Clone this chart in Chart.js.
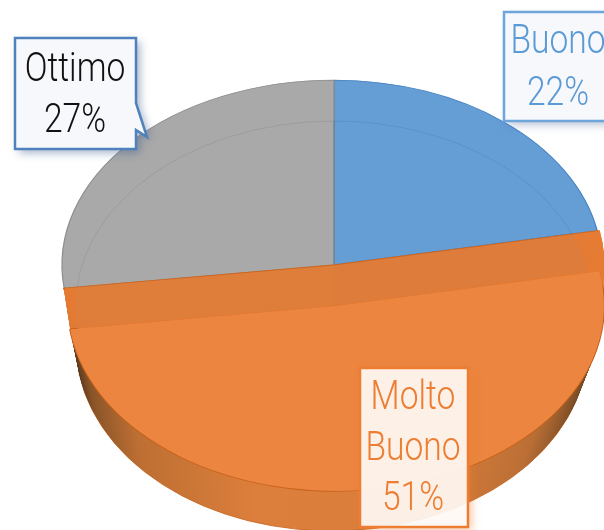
<!DOCTYPE html>
<html>
<head>
<meta charset="utf-8">
<style>
  html, body { margin: 0; padding: 0; background: #fff; overflow: hidden; }
  canvas { display: block; }
</style>
<script src="https://cdn.jsdelivr.net/npm/chart.js@4"></script>
</head>
<body>
<canvas id="pieChart" width="604" height="530"></canvas>
<script>
// Chart data
const categories = ["Buono", "Molto Buono", "Ottimo"];
const shares = [22, 51, 27];
const sliceColors = ["#659dd5", "#eb853f", "#a9a9a9"];
const sliceBorders = ["#3f7fc0", "#d0651a", "#8c8c8c"];
const labelColors = ["#5b9bd5", "#ed7d31", "#111111"];

const TILT = 0.68; // squash of the pie disc
const DEPTH = 40;
const EXPLODE_Y = 41;
const LABEL_FONT = '300 40px "Roboto", sans-serif';
const LABEL_NARROW = 0.84; // no condensed face installed, so narrow it by hand

function paintArc(ctx, arc, fill, stroke, width) {
  const saved = arc.options;
  arc.options = Object.assign({}, saved, {
    backgroundColor: fill,
    borderColor: stroke,
    borderWidth: width,
  });
  arc.draw(ctx);
  arc.options = saved;
}

function withPose(ctx, arc, dx, dy, sx, fn) {
  ctx.save();
  ctx.translate(arc.x + dx, arc.y + dy);
  ctx.scale(sx, TILT);
  ctx.translate(-arc.x, -arc.y);
  fn();
  ctx.restore();
}

const NONE = "rgba(0,0,0,0)";

// 3D look: every layer is the library's own arc element, repainted under a tilt
const tiltedPie = {
  id: "tiltedPie",
  beforeDatasetsDraw(chart) {
    const ctx = chart.ctx;
    const [blue, orange, grey] = chart.getDatasetMeta(0).data;

    // Outer wall of the exploded slice, tapering a little towards the bottom
    const wall = ctx.createLinearGradient(66, 0, 606, 0);
    wall.addColorStop(0, "#5a3a20");
    wall.addColorStop(0.03, "#8a5428");
    wall.addColorStop(0.12, "#bd6f33");
    wall.addColorStop(0.35, "#dd7f3c");
    wall.addColorStop(0.65, "#dc7e3b");
    wall.addColorStop(0.87, "#bb6f35");
    wall.addColorStop(0.97, "#7a4c26");
    wall.addColorStop(1, "#4f3219");
    for (let i = DEPTH; i >= 1; i--) {
      const t = i / DEPTH;
      withPose(ctx, orange, 2 - 4 * t, EXPLODE_Y + i, 0.985 - 0.045 * t, () => {
        paintArc(ctx, orange, wall, i === DEPTH ? "#c8651f" : NONE, i === DEPTH ? 1 : 0);
      });
    }

    // Fill the gap between the raised and the exploded position of the slice
    const gap = ctx.createLinearGradient(60, 0, 606, 0);
    gap.addColorStop(0, "#e07b35");
    gap.addColorStop(0.5, "#e07b35");
    gap.addColorStop(0.5, "#eb853f");
    gap.addColorStop(1, "#eb853f");
    for (let i = EXPLODE_Y; i >= 0; i--) {
      const t = i / EXPLODE_Y;
      withPose(ctx, orange, -1 + 3 * t, i, 0.998 - 0.013 * t, () => {
        paintArc(ctx, orange, gap, NONE, 0);
      });
    }

    // Cut walls showing through the band, then the back slices
    [blue, grey].forEach((arc) => {
      const color = arc === blue ? "#7f8f9f" : "#9a9a9a";
      withPose(ctx, arc, 0, EXPLODE_Y, 0.95, () => paintArc(ctx, arc, color, NONE, 0));
    });
    withPose(ctx, blue, 0, 0, 0.985, () => paintArc(ctx, blue, blue.options.backgroundColor, blue.options.borderColor, 1.2));
    withPose(ctx, grey, 0, 0, 1, () => paintArc(ctx, grey, grey.options.backgroundColor, grey.options.borderColor, 1.2));
    withPose(ctx, blue, 0, EXPLODE_Y, 0.95, () => paintArc(ctx, blue, NONE, "rgba(60,120,180,0.35)", 1));
    withPose(ctx, grey, 0, EXPLODE_Y, 0.95, () => paintArc(ctx, grey, NONE, "rgba(120,120,120,0.3)", 1));

    // Exploded slice: dark rim, translucent band, flat face
    withPose(ctx, orange, 2, EXPLODE_Y, 0.985, () => paintArc(ctx, orange, NONE, "#c45f18", 2));
    withPose(ctx, orange, -1, 0, 0.998, () => paintArc(ctx, orange, "rgba(229,123,50,0.92)", NONE, 0));
    // only the upper edge of the band gets a line
    ctx.save();
    ctx.beginPath();
    ctx.rect(60, 0, 538, 290);
    ctx.clip();
    withPose(ctx, orange, -1, 0, 0.998, () => paintArc(ctx, orange, NONE, orange.options.borderColor, 1.2));
    ctx.restore();
    withPose(ctx, orange, 2, EXPLODE_Y, 0.985, () => paintArc(ctx, orange, orange.options.backgroundColor, NONE, 0));

    return false;
  },
  afterDraw(chart) {
    const ctx = chart.ctx;
    drawLabel(ctx, 2, { x: 15, y: 38, w: 121, h: 111, cx: 75, lines: [71, 122], fill: "#f7f8fb", line: "#4f81bd", shadow: "rgba(60,90,140,0.45)", tail: true });
    drawLabel(ctx, 0, { x: 504, y: 12, w: 112, h: 109, cx: 558, lines: [43, 95], fill: "#f7f8fc", line: "#6ea5da", shadow: "rgba(60,90,140,0.35)" });
    drawLabel(ctx, 1, { x: 360, y: 368, w: 108, h: 159, cx: 413, lines: [399, 450, 500], fill: "rgba(255,255,255,0.88)", line: "#ed7d31", shadow: "rgba(237,125,49,0.45)" });
  },
};

function drawLabel(ctx, index, box) {
  ctx.save();
  ctx.beginPath();
  ctx.moveTo(box.x, box.y);
  ctx.lineTo(box.x + box.w, box.y);
  if (box.tail) {
    // callout pointer towards the grey slice
    ctx.lineTo(box.x + box.w, 103);
    ctx.lineTo(147, 137);
    ctx.lineTo(box.x + box.w, 130);
  }
  ctx.lineTo(box.x + box.w, box.y + box.h);
  ctx.lineTo(box.x, box.y + box.h);
  ctx.closePath();
  ctx.shadowColor = box.shadow;
  ctx.shadowBlur = 8;
  ctx.shadowOffsetX = 4;
  ctx.shadowOffsetY = 4;
  ctx.fillStyle = box.fill;
  ctx.fill();
  ctx.shadowColor = "transparent";
  ctx.strokeStyle = box.line;
  ctx.lineWidth = 2.5;
  ctx.lineJoin = "miter";
  ctx.stroke();

  const rows = categories[index].split(" ").concat(shares[index] + "%");
  ctx.font = LABEL_FONT;
  ctx.fillStyle = labelColors[index];
  ctx.textAlign = "center";
  ctx.textBaseline = "middle";
  rows.forEach((row, i) => {
    ctx.save();
    ctx.translate(box.cx, box.lines[i]);
    ctx.scale(LABEL_NARROW, 1);
    ctx.fillText(row, 0, 0);
    ctx.restore();
  });
  ctx.restore();
}

new Chart(document.getElementById("pieChart").getContext("2d"), {
  type: "pie",
  data: {
    labels: categories,
    datasets: [
      {
        data: shares,
        backgroundColor: sliceColors,
        borderColor: sliceBorders,
        borderWidth: 1,
      },
    ],
  },
  options: {
    responsive: false,
    maintainAspectRatio: false,
    animation: false,
    radius: 272,
    layout: { padding: { left: 64 } },
    plugins: { legend: { display: false }, tooltip: { enabled: false } },
  },
  plugins: [tiltedPie],
});
</script>
</body>
</html>
